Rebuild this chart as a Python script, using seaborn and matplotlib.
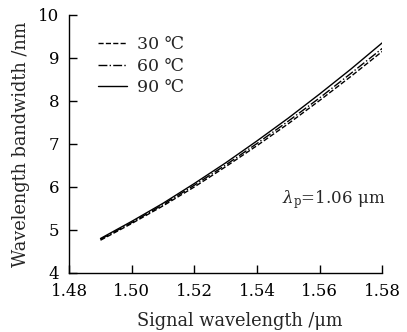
import pandas as pd
import matplotlib.pyplot as plt
import seaborn as sns

# Values
signal_wl = [1.49, 1.50, 1.51, 1.52, 1.53, 1.54, 1.55, 1.56, 1.57, 1.58]
bw_30 = [4.76, 5.15, 5.56, 6.00, 6.47, 6.96, 7.47, 8.01, 8.57, 9.15]
bw_60 = [4.78, 5.17, 5.59, 6.04, 6.51, 7.01, 7.53, 8.07, 8.64, 9.22]
bw_90 = [4.80, 5.20, 5.62, 6.08, 6.56, 7.07, 7.60, 8.16, 8.74, 9.35]
temps = ['30 ℃', '60 ℃', '90 ℃']
x_ticks = [1.48, 1.50, 1.52, 1.54, 1.56, 1.58]
y_ticks = [4, 5, 6, 7, 8, 9, 10]

sns.set_style('ticks')
plt.rcParams['font.family'] = ['DejaVu Serif', 'DejaVu Sans']
plt.rcParams['mathtext.fontset'] = 'dejavuserif'

fig = plt.figure(figsize=(4.07, 3.32), dpi=100)
ax = fig.add_axes([0.170, 0.178, 0.769, 0.777])

styles = ['--', '-.', '-']
for t, vals, ls in zip(temps, [bw_30, bw_60, bw_90], styles):
    sns.lineplot(x=signal_wl, y=vals, ax=ax, color='black', linestyle=ls,
                 linewidth=1.0, label=t)

ax.set_xlim(1.48, 1.58)
ax.set_ylim(4, 10)
ax.set_xticks(x_ticks)
ax.set_xticklabels([f'{v:.2f}' for v in x_ticks])
ax.set_yticks(y_ticks)
ax.tick_params(direction='in', length=6, width=1, labelsize=12, colors='black')
ax.tick_params(axis='y', pad=7)
ax.tick_params(axis='x', pad=7)
for s in ['left', 'bottom']:
    ax.spines[s].set_linewidth(1.0)
    ax.spines[s].set_color('black')
sns.despine(ax=ax)

ax.set_xlabel('Signal wavelength /μm', fontsize=12.8)
ax.set_ylabel('Wavelength bandwidth /nm', fontsize=12.8)
ax.xaxis.set_label_coords(0.546, -0.15)
ax.yaxis.set_label_coords(-0.125, 0.5)

ax.text(1.548, 5.62, r'$\lambda_{\mathrm{p}}$=1.06 μm', fontsize=12,
        va='baseline')

ax.legend(loc='upper left', bbox_to_anchor=(0.08, 0.93), frameon=False,
          fontsize=12.5, handlelength=1.7, handletextpad=0.55, labelspacing=0.25,
          borderpad=0.2, borderaxespad=0)

plt.savefig('out.png', dpi=100)
plt.close()
